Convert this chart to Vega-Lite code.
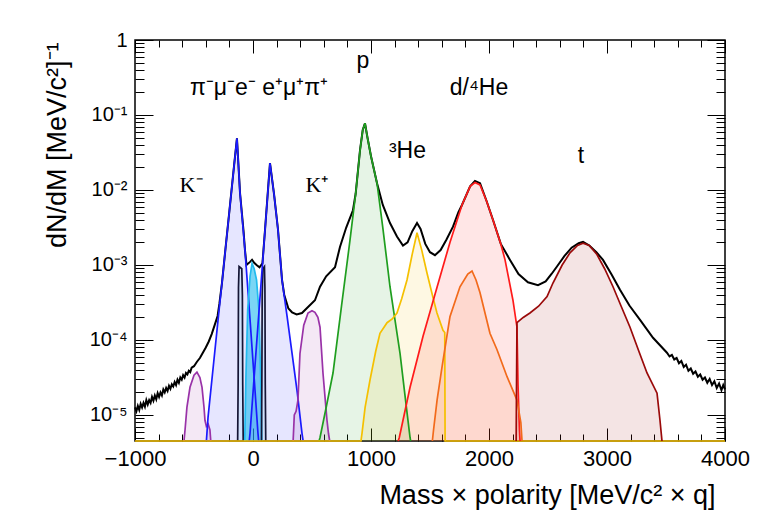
{
  "$schema": "https://vega.github.io/schema/vega-lite/v6.json",
  "width": 590,
  "height": 401,
  "autosize": {"type": "none"},
  "padding": {"left": 135, "top": 40, "right": 44, "bottom": 85},
  "background": "white",
  "config": {
    "font": "Liberation Sans",
    "view": {"stroke": "black", "strokeWidth": 1.5},
    "axis": {"domain": false, "grid": false, "tickColor": "black", "tickWidth": 1, "labelColor": "black", "titleColor": "black", "titleFontWeight": "normal", "labelFont": "Liberation Sans", "titleFont": "Liberation Sans"}
  },
  "datasets": {
    "curves": [
      {"s":"total","x":-1000,"y":1.26e-5},{"s":"total","x":-988,"y":1.12e-5},{"s":"total","x":-976,"y":1.32e-5},{"s":"total","x":-964,"y":1.17e-5},{"s":"total","x":-952,"y":1.41e-5},{"s":"total","x":-940,"y":1.26e-5},{"s":"total","x":-928,"y":1.45e-5},{"s":"total","x":-916,"y":1.29e-5},{"s":"total","x":-904,"y":1.58e-5},{"s":"total","x":-892,"y":1.38e-5},{"s":"total","x":-880,"y":1.58e-5},{"s":"total","x":-868,"y":1.45e-5},{"s":"total","x":-856,"y":1.74e-5},{"s":"total","x":-844,"y":1.55e-5},{"s":"total","x":-832,"y":1.82e-5},{"s":"total","x":-820,"y":1.62e-5},{"s":"total","x":-808,"y":1.95e-5},{"s":"total","x":-796,"y":1.74e-5},{"s":"total","x":-784,"y":2.0e-5},{"s":"total","x":-772,"y":1.82e-5},{"s":"total","x":-760,"y":2.19e-5},{"s":"total","x":-748,"y":2.0e-5},{"s":"total","x":-736,"y":2.29e-5},{"s":"total","x":-724,"y":2.09e-5},{"s":"total","x":-712,"y":2.45e-5},{"s":"total","x":-700,"y":2.24e-5},{"s":"total","x":-688,"y":2.57e-5},{"s":"total","x":-676,"y":2.40e-5},{"s":"total","x":-664,"y":2.75e-5},{"s":"total","x":-652,"y":2.51e-5},{"s":"total","x":-640,"y":2.95e-5},{"s":"total","x":-628,"y":2.69e-5},{"s":"total","x":-616,"y":3.16e-5},{"s":"total","x":-604,"y":2.95e-5},{"s":"total","x":-592,"y":3.39e-5},{"s":"total","x":-580,"y":3.16e-5},{"s":"total","x":-568,"y":3.63e-5},{"s":"total","x":-556,"y":3.47e-5},{"s":"total","x":-544,"y":3.89e-5},{"s":"total","x":-532,"y":3.72e-5},{"s":"total","x":-520,"y":4.27e-5},{"s":"total","x":-500,"y":4.47e-5},{"s":"total","x":-475,"y":5.13e-5},{"s":"total","x":-450,"y":5.75e-5},{"s":"total","x":-425,"y":6.76e-5},{"s":"total","x":-400,"y":7.94e-5},{"s":"total","x":-375,"y":9.55e-5},{"s":"total","x":-350,"y":1.20e-4},{"s":"total","x":-325,"y":1.58e-4},{"s":"total","x":-300,"y":2.09e-4},{"s":"total","x":-285,"y":3.02e-4},{"s":"total","x":-263,"y":5.75e-4},{"s":"total","x":-233,"y":1.66e-3},{"s":"total","x":-200,"y":5.25e-3},{"s":"total","x":-160,"y":2.14e-2},{"s":"total","x":-136,"y":4.90e-2},{"s":"total","x":-110,"y":9.12e-3},{"s":"total","x":-80,"y":2.82e-3},{"s":"total","x":-68,"y":1.58e-3},{"s":"total","x":-55,"y":1.0e-3},{"s":"total","x":-25,"y":1.10e-3},{"s":"total","x":-8,"y":1.17e-3},{"s":"total","x":10,"y":1.07e-3},{"s":"total","x":30,"y":1.0e-3},{"s":"total","x":55,"y":9.33e-4},{"s":"total","x":80,"y":1.05e-3},{"s":"total","x":102,"y":2.95e-3},{"s":"total","x":144,"y":2.29e-2},{"s":"total","x":178,"y":8.91e-3},{"s":"total","x":212,"y":2.95e-3},{"s":"total","x":246,"y":6.31e-4},{"s":"total","x":265,"y":3.98e-4},{"s":"total","x":300,"y":2.63e-4},{"s":"total","x":331,"y":2.34e-4},{"s":"total","x":370,"y":2.19e-4},{"s":"total","x":415,"y":2.29e-4},{"s":"total","x":460,"y":2.69e-4},{"s":"total","x":525,"y":3.39e-4},{"s":"total","x":568,"y":5.13e-4},{"s":"total","x":620,"y":7.08e-4},{"s":"total","x":695,"y":9.33e-4},{"s":"total","x":737,"y":1.74e-3},{"s":"total","x":790,"y":3.16e-3},{"s":"total","x":847,"y":5.37e-3},{"s":"total","x":870,"y":8.91e-3},{"s":"total","x":907,"y":3.39e-2},{"s":"total","x":930,"y":6.31e-2},{"s":"total","x":949,"y":7.76e-2},{"s":"total","x":970,"y":5.01e-2},{"s":"total","x":1000,"y":2.82e-2},{"s":"total","x":1051,"y":1.23e-2},{"s":"total","x":1100,"y":6.31e-3},{"s":"total","x":1161,"y":3.63e-3},{"s":"total","x":1220,"y":2.40e-3},{"s":"total","x":1271,"y":1.82e-3},{"s":"total","x":1310,"y":2.0e-3},{"s":"total","x":1350,"y":2.82e-3},{"s":"total","x":1390,"y":3.63e-3},{"s":"total","x":1420,"y":3.02e-3},{"s":"total","x":1460,"y":1.91e-3},{"s":"total","x":1500,"y":1.48e-3},{"s":"total","x":1542,"y":1.35e-3},{"s":"total","x":1590,"y":1.58e-3},{"s":"total","x":1640,"y":2.19e-3},{"s":"total","x":1695,"y":3.24e-3},{"s":"total","x":1740,"y":5.01e-3},{"s":"total","x":1771,"y":6.31e-3},{"s":"total","x":1840,"y":1.12e-2},{"s":"total","x":1881,"y":1.32e-2},{"s":"total","x":1924,"y":1.23e-2},{"s":"total","x":1980,"y":7.08e-3},{"s":"total","x":2034,"y":3.98e-3},{"s":"total","x":2100,"y":1.91e-3},{"s":"total","x":2178,"y":1.17e-3},{"s":"total","x":2250,"y":7.59e-4},{"s":"total","x":2330,"y":5.89e-4},{"s":"total","x":2415,"y":5.37e-4},{"s":"total","x":2480,"y":6.03e-4},{"s":"total","x":2530,"y":7.59e-4},{"s":"total","x":2576,"y":9.55e-4},{"s":"total","x":2640,"y":1.32e-3},{"s":"total","x":2700,"y":1.70e-3},{"s":"total","x":2760,"y":1.95e-3},{"s":"total","x":2797,"y":2.04e-3},{"s":"total","x":2850,"y":1.82e-3},{"s":"total","x":2910,"y":1.48e-3},{"s":"total","x":2966,"y":1.17e-3},{"s":"total","x":3040,"y":7.41e-4},{"s":"total","x":3110,"y":4.68e-4},{"s":"total","x":3190,"y":2.88e-4},{"s":"total","x":3280,"y":1.86e-4},{"s":"total","x":3390,"y":1.07e-4},{"s":"total","x":3508,"y":6.76e-5},{"s":"total","x":3530,"y":6.03e-5},{"s":"total","x":3550,"y":6.31e-5},{"s":"total","x":3570,"y":5.50e-5},{"s":"total","x":3590,"y":5.75e-5},{"s":"total","x":3610,"y":4.90e-5},{"s":"total","x":3630,"y":5.25e-5},{"s":"total","x":3650,"y":4.37e-5},{"s":"total","x":3670,"y":4.68e-5},{"s":"total","x":3690,"y":3.89e-5},{"s":"total","x":3710,"y":4.17e-5},{"s":"total","x":3730,"y":3.55e-5},{"s":"total","x":3750,"y":3.80e-5},{"s":"total","x":3770,"y":3.24e-5},{"s":"total","x":3790,"y":3.47e-5},{"s":"total","x":3810,"y":2.95e-5},{"s":"total","x":3830,"y":3.16e-5},{"s":"total","x":3850,"y":2.69e-5},{"s":"total","x":3870,"y":3.02e-5},{"s":"total","x":3890,"y":2.51e-5},{"s":"total","x":3910,"y":2.82e-5},{"s":"total","x":3930,"y":2.29e-5},{"s":"total","x":3950,"y":2.63e-5},{"s":"total","x":3970,"y":2.14e-5},{"s":"total","x":3985,"y":2.51e-5},{"s":"total","x":4000,"y":2.19e-5},

      {"s":"Km","x":-585,"y":4.5e-6},{"s":"Km","x":-576,"y":6.31e-6},{"s":"Km","x":-560,"y":1.26e-5},{"s":"Km","x":-534,"y":2.34e-5},{"s":"Km","x":-500,"y":3.39e-5},{"s":"Km","x":-475,"y":3.72e-5},{"s":"Km","x":-450,"y":3.16e-5},{"s":"Km","x":-432,"y":2.34e-5},{"s":"Km","x":-415,"y":1.26e-5},{"s":"Km","x":-407,"y":8.51e-6},{"s":"Km","x":-395,"y":7.08e-6},{"s":"Km","x":-380,"y":7.59e-6},{"s":"Km","x":-365,"y":6.31e-6},{"s":"Km","x":-358,"y":4.5e-6},

      {"s":"pim","x":-395,"y":4.5e-6},{"s":"pim","x":-381,"y":9.33e-6},{"s":"pim","x":-330,"y":5.62e-5},{"s":"pim","x":-285,"y":2.75e-4},{"s":"pim","x":-263,"y":5.75e-4},{"s":"pim","x":-233,"y":1.66e-3},{"s":"pim","x":-200,"y":5.25e-3},{"s":"pim","x":-160,"y":2.14e-2},{"s":"pim","x":-136,"y":4.90e-2},{"s":"pim","x":-110,"y":9.12e-3},{"s":"pim","x":-68,"y":1.58e-3},{"s":"pim","x":-25,"y":1.86e-4},{"s":"pim","x":17,"y":2.14e-5},{"s":"pim","x":42,"y":5.75e-6},{"s":"pim","x":48,"y":4.5e-6},

      {"s":"mum","x":-130,"y":4.5e-6},{"s":"mum","x":-126,"y":2.51e-5},{"s":"mum","x":-123,"y":5.01e-4},{"s":"mum","x":-118,"y":9.55e-4},{"s":"mum","x":-95,"y":8.91e-4},{"s":"mum","x":-90,"y":3.98e-4},{"s":"mum","x":-87,"y":2.51e-5},{"s":"mum","x":-83,"y":4.5e-6},

      {"s":"e","x":-70,"y":4.5e-6},{"s":"e","x":-60,"y":3.16e-5},{"s":"e","x":-45,"y":2.51e-4},{"s":"e","x":-25,"y":7.08e-4},{"s":"e","x":-8,"y":1.05e-3},{"s":"e","x":10,"y":8.91e-4},{"s":"e","x":30,"y":6.31e-4},{"s":"e","x":50,"y":2.51e-4},{"s":"e","x":65,"y":3.16e-5},{"s":"e","x":75,"y":4.5e-6},

      {"s":"mup","x":72,"y":4.5e-6},{"s":"mup","x":75,"y":2.51e-5},{"s":"mup","x":78,"y":3.98e-4},{"s":"mup","x":83,"y":8.91e-4},{"s":"mup","x":97,"y":9.55e-4},{"s":"mup","x":101,"y":5.01e-4},{"s":"mup","x":104,"y":2.51e-5},{"s":"mup","x":108,"y":4.5e-6},

      {"s":"pip","x":-32,"y":4.5e-6},{"s":"pip","x":-25,"y":5.75e-6},{"s":"pip","x":17,"y":4.57e-5},{"s":"pip","x":59,"y":3.63e-4},{"s":"pip","x":102,"y":2.95e-3},{"s":"pip","x":144,"y":2.29e-2},{"s":"pip","x":178,"y":8.91e-3},{"s":"pip","x":212,"y":2.95e-3},{"s":"pip","x":246,"y":6.31e-4},{"s":"pip","x":290,"y":2.0e-4},{"s":"pip","x":331,"y":6.61e-5},{"s":"pip","x":375,"y":2.0e-5},{"s":"pip","x":415,"y":5.75e-6},{"s":"pip","x":425,"y":4.5e-6},

      {"s":"Kp","x":340,"y":4.5e-6},{"s":"Kp","x":350,"y":1.0e-5},{"s":"Kp","x":365,"y":1.12e-5},{"s":"Kp","x":381,"y":1.58e-5},{"s":"Kp","x":398,"y":6.61e-5},{"s":"Kp","x":430,"y":1.58e-4},{"s":"Kp","x":466,"y":2.29e-4},{"s":"Kp","x":500,"y":2.45e-4},{"s":"Kp","x":525,"y":2.34e-4},{"s":"Kp","x":550,"y":2.0e-4},{"s":"Kp","x":568,"y":1.48e-4},{"s":"Kp","x":593,"y":3.63e-5},{"s":"Kp","x":615,"y":1.41e-5},{"s":"Kp","x":627,"y":8.51e-6},{"s":"Kp","x":640,"y":5.62e-6},{"s":"Kp","x":650,"y":4.5e-6},

      {"s":"p","x":560,"y":4.5e-6},{"s":"p","x":568,"y":5.01e-6},{"s":"p","x":620,"y":1.26e-5},{"s":"p","x":678,"y":3.63e-5},{"s":"p","x":750,"y":2.82e-4},{"s":"p","x":822,"y":2.14e-3},{"s":"p","x":870,"y":8.91e-3},{"s":"p","x":907,"y":3.39e-2},{"s":"p","x":930,"y":6.31e-2},{"s":"p","x":949,"y":7.76e-2},{"s":"p","x":970,"y":5.01e-2},{"s":"p","x":1000,"y":2.82e-2},{"s":"p","x":1051,"y":1.23e-2},{"s":"p","x":1100,"y":3.16e-3},{"s":"p","x":1161,"y":5.13e-4},{"s":"p","x":1200,"y":2.0e-4},{"s":"p","x":1246,"y":6.61e-5},{"s":"p","x":1300,"y":1.26e-5},{"s":"p","x":1331,"y":5.01e-6},{"s":"p","x":1336,"y":4.5e-6},

      {"s":"He3","x":-1000,"y":4.5e-6},{"s":"He3","x":915,"y":4.5e-6},{"s":"He3","x":924,"y":5.75e-6},{"s":"He3","x":950,"y":1.26e-5},{"s":"He3","x":992,"y":2.95e-5},{"s":"He3","x":1040,"y":7.08e-5},{"s":"He3","x":1076,"y":1.23e-4},{"s":"He3","x":1136,"y":1.70e-4},{"s":"He3","x":1180,"y":1.91e-4},{"s":"He3","x":1220,"y":2.29e-4},{"s":"He3","x":1260,"y":3.55e-4},{"s":"He3","x":1305,"y":6.31e-4},{"s":"He3","x":1350,"y":1.41e-3},{"s":"He3","x":1390,"y":2.69e-3},{"s":"He3","x":1430,"y":1.58e-3},{"s":"He3","x":1475,"y":7.76e-4},{"s":"He3","x":1520,"y":3.98e-4},{"s":"He3","x":1559,"y":2.29e-4},{"s":"He3","x":1610,"y":1.35e-4},{"s":"He3","x":1625,"y":1.26e-4},{"s":"He3","x":1628,"y":4.5e-6},{"s":"He3","x":4000,"y":4.5e-6},

      {"s":"d","x":1230,"y":4.5e-6},{"s":"d","x":1240,"y":5.01e-6},{"s":"d","x":1331,"y":2.34e-5},{"s":"d","x":1441,"y":1.12e-4},{"s":"d","x":1559,"y":5.01e-4},{"s":"d","x":1669,"y":2.0e-3},{"s":"d","x":1771,"y":6.31e-3},{"s":"d","x":1840,"y":1.12e-2},{"s":"d","x":1881,"y":1.26e-2},{"s":"d","x":1924,"y":1.17e-2},{"s":"d","x":1980,"y":7.08e-3},{"s":"d","x":2034,"y":3.98e-3},{"s":"d","x":2100,"y":1.91e-3},{"s":"d","x":2136,"y":1.17e-3},{"s":"d","x":2203,"y":3.39e-4},{"s":"d","x":2237,"y":1.48e-4},{"s":"d","x":2246,"y":2.51e-5},{"s":"d","x":2258,"y":6.31e-6},{"s":"d","x":2263,"y":4.5e-6},

      {"s":"He4","x":1520,"y":4.5e-6},{"s":"He4","x":1530,"y":6.31e-6},{"s":"He4","x":1560,"y":1.58e-5},{"s":"He4","x":1602,"y":4.37e-5},{"s":"He4","x":1669,"y":2.04e-4},{"s":"He4","x":1754,"y":5.13e-4},{"s":"He4","x":1820,"y":7.59e-4},{"s":"He4","x":1856,"y":8.32e-4},{"s":"He4","x":1890,"y":6.31e-4},{"s":"He4","x":1924,"y":4.27e-4},{"s":"He4","x":2008,"y":1.23e-4},{"s":"He4","x":2068,"y":7.41e-5},{"s":"He4","x":2153,"y":3.24e-5},{"s":"He4","x":2237,"y":1.58e-5},{"s":"He4","x":2270,"y":7.94e-6},{"s":"He4","x":2280,"y":4.5e-6},

      {"s":"t","x":2230,"y":4.5e-6},{"s":"t","x":2237,"y":1.70e-4},{"s":"t","x":2290,"y":2.0e-4},{"s":"t","x":2347,"y":2.29e-4},{"s":"t","x":2420,"y":2.82e-4},{"s":"t","x":2492,"y":3.80e-4},{"s":"t","x":2542,"y":5.75e-4},{"s":"t","x":2620,"y":1.0e-3},{"s":"t","x":2686,"y":1.45e-3},{"s":"t","x":2750,"y":1.82e-3},{"s":"t","x":2797,"y":1.95e-3},{"s":"t","x":2850,"y":1.82e-3},{"s":"t","x":2915,"y":1.38e-3},{"s":"t","x":2980,"y":8.91e-4},{"s":"t","x":3051,"y":5.13e-4},{"s":"t","x":3120,"y":2.82e-4},{"s":"t","x":3195,"y":1.48e-4},{"s":"t","x":3270,"y":7.08e-5},{"s":"t","x":3339,"y":3.63e-5},{"s":"t","x":3424,"y":1.95e-5},{"s":"t","x":3449,"y":8.51e-6},{"s":"t","x":3460,"y":5.62e-6},{"s":"t","x":3466,"y":4.5e-6}
    ],
    "sanslabels": [
      {"x": 51, "y": 0.185, "label": "π⁻μ⁻e⁻ e⁺μ⁺π⁺"},
      {"x": 932, "y": 0.424, "label": "p"},
      {"x": 1915, "y": 0.185, "label": "d/⁴He"},
      {"x": 1309, "y": 0.0267, "label": "³He"},
      {"x": 2780, "y": 0.0229, "label": "t"}
    ],
    "seriflabels": [
      {"x": -525, "y": 0.0094, "label": "K⁻"},
      {"x": 542, "y": 0.0094, "label": "K⁺"}
    ]
  },
  "resolve": {"axis": {"x": "independent", "y": "independent"}},
  "layer": [
    {
      "data": {"name": "curves"},
      "transform": [{"filter": "datum.s == 'total'"}],
      "mark": {"type": "line", "color": "black", "strokeWidth": 2},
      "encoding": {
        "x": {
          "field": "x", "type": "quantitative",
          "scale": {"domain": [-1000, 4000], "nice": false, "zero": false},
          "axis": {
            "orient": "bottom",
            "values": [-1000, 0, 1000, 2000, 3000, 4000],
            "format": "d",
            "tickSize": -13,
            "labelPadding": 20,
            "labelFontSize": 22,
            "labelFlush": false,
            "labelOverlap": false,
            "labelBound": false,
            "title": "Mass × polarity [MeV/c² × q]",
            "titleFontSize": 27,
            "titleAnchor": "end",
            "titleAlign": "right",
            "titleBaseline": "alphabetic",
            "titleX": 580,
            "titleY": 62
          }
        },
        "y": {
          "field": "y", "type": "quantitative",
          "scale": {"type": "log", "domain": [4.5e-6, 1], "nice": false},
          "axis": {
            "orient": "left",
            "values": [1e-5, 1e-4, 0.001, 0.01, 0.1, 1],
            "tickSize": -18,
            "labelExpr": "round(log(datum.value)/LN10) == 0 ? '1' : round(log(datum.value)/LN10) == -1 ? '10⁻¹' : round(log(datum.value)/LN10) == -2 ? '10⁻²' : round(log(datum.value)/LN10) == -3 ? '10⁻³' : round(log(datum.value)/LN10) == -4 ? '10⁻⁴' : '10⁻⁵'",
            "labelPadding": 26,
            "labelFontSize": 20,
            "labelOverlap": false,
            "labelFlush": false,
            "labelBound": false,
            "title": "dN/dM [MeV/c²]⁻¹",
            "titleFontSize": 27,
            "titleAngle": 270,
            "titleAnchor": "end",
            "titleAlign": "right",
            "titleBaseline": "alphabetic",
            "titleX": -70,
            "titleY": 2
          }
        }
      }
    },
    {
      "data": {"name": "curves"},
      "transform": [{"filter": "datum.s != 'total'"}],
      "mark": {"type": "area"},
      "encoding": {
        "x": {
          "field": "x", "type": "quantitative", "scale": {"domain": [-1000, 4000], "nice": false, "zero": false},
          "axis": {"orient": "bottom", "labels": false, "title": null, "tickSize": -7,
            "values": [-800,-600,-400,-200,200,400,600,800,1200,1400,1600,1800,2200,2400,2600,2800,3200,3400,3600,3800]}
        },
        "y": {
          "field": "y", "type": "quantitative", "stack": null, "scale": {"type": "log", "domain": [4.5e-6, 1], "nice": false},
          "axis": {"orient": "left", "labels": false, "title": null, "tickSize": -9,
            "values": [5e-6,6e-6,7e-6,8e-6,9e-6,2e-5,3e-5,4e-5,5e-5,6e-5,7e-5,8e-5,9e-5,2e-4,3e-4,4e-4,5e-4,6e-4,7e-4,8e-4,9e-4,0.002,0.003,0.004,0.005,0.006,0.007,0.008,0.009,0.02,0.03,0.04,0.05,0.06,0.07,0.08,0.09,0.2,0.3,0.4,0.5,0.6,0.7,0.8,0.9]}
        },
        "fill": {
          "field": "s", "type": "nominal", "legend": null,
          "scale": {
            "domain": ["Km","pim","mum","e","mup","pip","Kp","p","He3","d","He4","t"],
            "range": ["#9932a8","#1a1aff","#33c6e8","#22bbee","#33c6e8","#1a1aff","#9932a8","#1f9e1f","#f5c000","#ff1a1a","#f26a1b","#9a0a0a"]
          }
        },
        "fillOpacity": {"condition": {"test": "datum.s == 'e'", "value": 0.6}, "value": 0.11}
      }
    },
    {
      "data": {"name": "curves"},
      "transform": [{"filter": "datum.s != 'total'"}],
      "mark": {"type": "line", "strokeWidth": 1.7},
      "encoding": {
        "x": {
          "field": "x", "type": "quantitative", "scale": {"domain": [-1000, 4000], "nice": false, "zero": false},
          "axis": {"orient": "top", "labels": false, "title": null, "tickSize": -13, "values": [-1000, 0, 1000, 2000, 3000, 4000]}
        },
        "y": {
          "field": "y", "type": "quantitative", "stack": null, "scale": {"type": "log", "domain": [4.5e-6, 1], "nice": false},
          "axis": {"orient": "right", "labels": false, "title": null, "tickSize": -18, "values": [1e-5, 1e-4, 0.001, 0.01, 0.1, 1]}
        },
        "stroke": {
          "field": "s", "type": "nominal", "legend": null,
          "scale": {
            "domain": ["Km","pim","mum","e","mup","pip","Kp","p","He3","d","He4","t"],
            "range": ["#9932a8","#1a1aff","#151535","#22bbee","#151535","#1a1aff","#9932a8","#1f9e1f","#f5c000","#ff1a1a","#f26a1b","#9a0a0a"]
          }
        }
      }
    },
    {
      "data": {"name": "sanslabels"},
      "mark": {"type": "text", "font": "Liberation Sans", "fontSize": 23, "baseline": "alphabetic", "align": "center", "color": "black"},
      "encoding": {
        "x": {
          "field": "x", "type": "quantitative",
          "scale": {"domain": [-1000, 4000], "nice": false, "zero": false},
          "axis": {"orient": "top", "labels": false, "title": null, "tickSize": -7,
            "values": [-800,-600,-400,-200,200,400,600,800,1200,1400,1600,1800,2200,2400,2600,2800,3200,3400,3600,3800]}
        },
        "y": {
          "field": "y", "type": "quantitative",
          "scale": {"type": "log", "domain": [4.5e-6, 1], "nice": false},
          "axis": {"orient": "right", "labels": false, "title": null, "tickSize": -9,
            "values": [5e-6,6e-6,7e-6,8e-6,9e-6,2e-5,3e-5,4e-5,5e-5,6e-5,7e-5,8e-5,9e-5,2e-4,3e-4,4e-4,5e-4,6e-4,7e-4,8e-4,9e-4,0.002,0.003,0.004,0.005,0.006,0.007,0.008,0.009,0.02,0.03,0.04,0.05,0.06,0.07,0.08,0.09,0.2,0.3,0.4,0.5,0.6,0.7,0.8,0.9]}
        },
        "text": {"field": "label", "type": "nominal"}
      }
    },
    {
      "data": {"name": "seriflabels"},
      "mark": {"type": "text", "font": "Liberation Serif", "fontSize": 22, "baseline": "alphabetic", "align": "center", "color": "black"},
      "encoding": {
        "x": {"field": "x", "type": "quantitative", "scale": {"domain": [-1000, 4000], "nice": false, "zero": false}, "axis": null},
        "y": {"field": "y", "type": "quantitative", "scale": {"type": "log", "domain": [4.5e-6, 1], "nice": false}, "axis": null},
        "text": {"field": "label", "type": "nominal"}
      }
    }
  ]
}
